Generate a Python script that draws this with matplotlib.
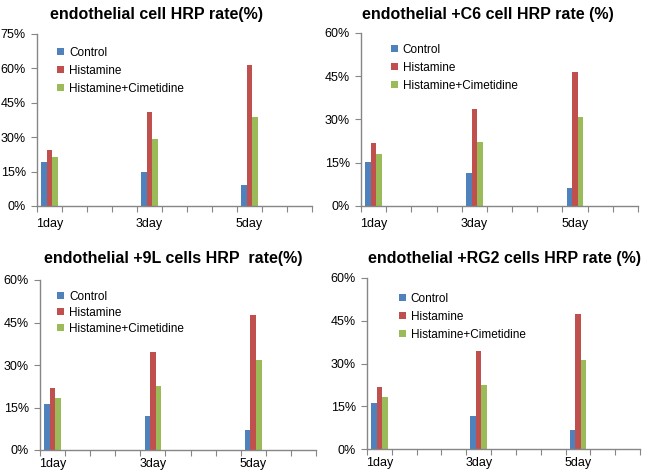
import matplotlib
matplotlib.use("Agg")
import matplotlib.pyplot as plt
import numpy as np

plt.rcParams['font.family'] = ['Liberation Sans', 'DejaVu Sans']

categories = ["1day", "", "", "", "3day", "", "", "", "5day", "", ""]
series_names = ["Control", "Histamine", "Histamine+Cimetidine"]
colors = ["#4F81BD", "#C0504D", "#9BBB59"]

titles = [
    "endothelial cell HRP rate(%)",
    "endothelial +C6 cell HRP rate (%)",
    "endothelial +9L cells HRP  rate(%)",
    "endothelial +RG2 cells HRP rate (%)",
]

# values (%) for 1day, 3day, 5day
p1_control = [19.1, 14.9, 9.3]
p1_histamine = [24.5, 41.2, 61.6]
p1_cimetidine = [21.4, 29.0, 38.6]

p2_control = [15.4, 11.6, 6.1]
p2_histamine = [21.7, 33.8, 46.4]
p2_cimetidine = [18.0, 22.2, 30.9]

p3_control = [16.2, 12.0, 6.9]
p3_histamine = [21.9, 34.5, 47.8]
p3_cimetidine = [18.2, 22.5, 31.6]

p4_control = [16.3, 11.7, 6.8]
p4_histamine = [21.9, 34.4, 47.3]
p4_cimetidine = [18.2, 22.5, 31.1]

y_max = [75, 60, 60, 60]

panels = [
    (p1_control, p1_histamine, p1_cimetidine),
    (p2_control, p2_histamine, p2_cimetidine),
    (p3_control, p3_histamine, p3_cimetidine),
    (p4_control, p4_histamine, p4_cimetidine),
]

W, H = 648, 472
fig = plt.figure(figsize=(W / 100, H / 100), dpi=100)

# axes rects in pixels: left, top, right, bottom
rects_px = [
    (37, 34, 312, 206),
    (361, 33, 638, 206),
    (40, 280, 316, 450),
    (367, 278, 640, 449),
]
legend_anchor = [(0.073, 0.926), (0.108, 0.938), (0.062, 0.937), (0.117, 0.914)]
legend_spacing = [0.5, 0.5, 0.33, 0.5]
title_pos = [(157, 14), (488, 15), (173, 258), (504, 258)]
xlabel_pad = [9, 9, 6, 6]

labelled_idx = [i for i, c in enumerate(categories) if c]
bar_w = 0.222

for k, (vals, ymax) in enumerate(zip(panels, y_max)):
    l, t, r, b = rects_px[k]
    ax = fig.add_axes([l / W, 1 - b / H, (r - l) / W, (b - t) / H])
    for s, (name, col, v) in enumerate(zip(series_names, colors, vals)):
        xs = np.array(labelled_idx) + 0.5 + (s - 1) * bar_w
        ax.bar(xs, v, width=bar_w, color=col, label=name, edgecolor='none')
    ax.set_xlim(0, len(categories))
    ax.set_ylim(0, ymax)
    ax.set_yticks(np.arange(0, ymax + 1, 15))
    ax.set_yticklabels([f"{int(v)}%" for v in np.arange(0, ymax + 1, 15)])
    ax.set_xticks(np.arange(0, len(categories) + 1))
    ax.set_xticklabels([])
    ax.set_xticks(np.arange(len(categories)) + 0.5, minor=True)
    ax.set_xticklabels(categories, minor=True)
    ax.tick_params(axis='x', which='minor', length=0, pad=xlabel_pad[k], labelsize=9)
    ax.tick_params(axis='x', which='major', length=4, direction='out', color='#868686')
    ax.tick_params(axis='y', length=4, direction='out', color='#868686', labelsize=9, pad=4)
    for sp in ['top', 'right']:
        ax.spines[sp].set_visible(False)
    for sp in ['left', 'bottom']:
        ax.spines[sp].set_color('#868686')
        ax.spines[sp].set_linewidth(1.0)
    ax.legend(loc='upper left', bbox_to_anchor=legend_anchor[k], frameon=False,
              fontsize=8.5, handlelength=0.6, handleheight=0.6, handletextpad=0.4,
              labelspacing=legend_spacing[k], borderpad=0, borderaxespad=0)
    tx, ty = title_pos[k]
    fig.text(tx / W, 1 - ty / H, titles[k], ha='center', va='center',
             fontsize=11.5, fontweight='bold')

fig.savefig("out.png", dpi=100)
